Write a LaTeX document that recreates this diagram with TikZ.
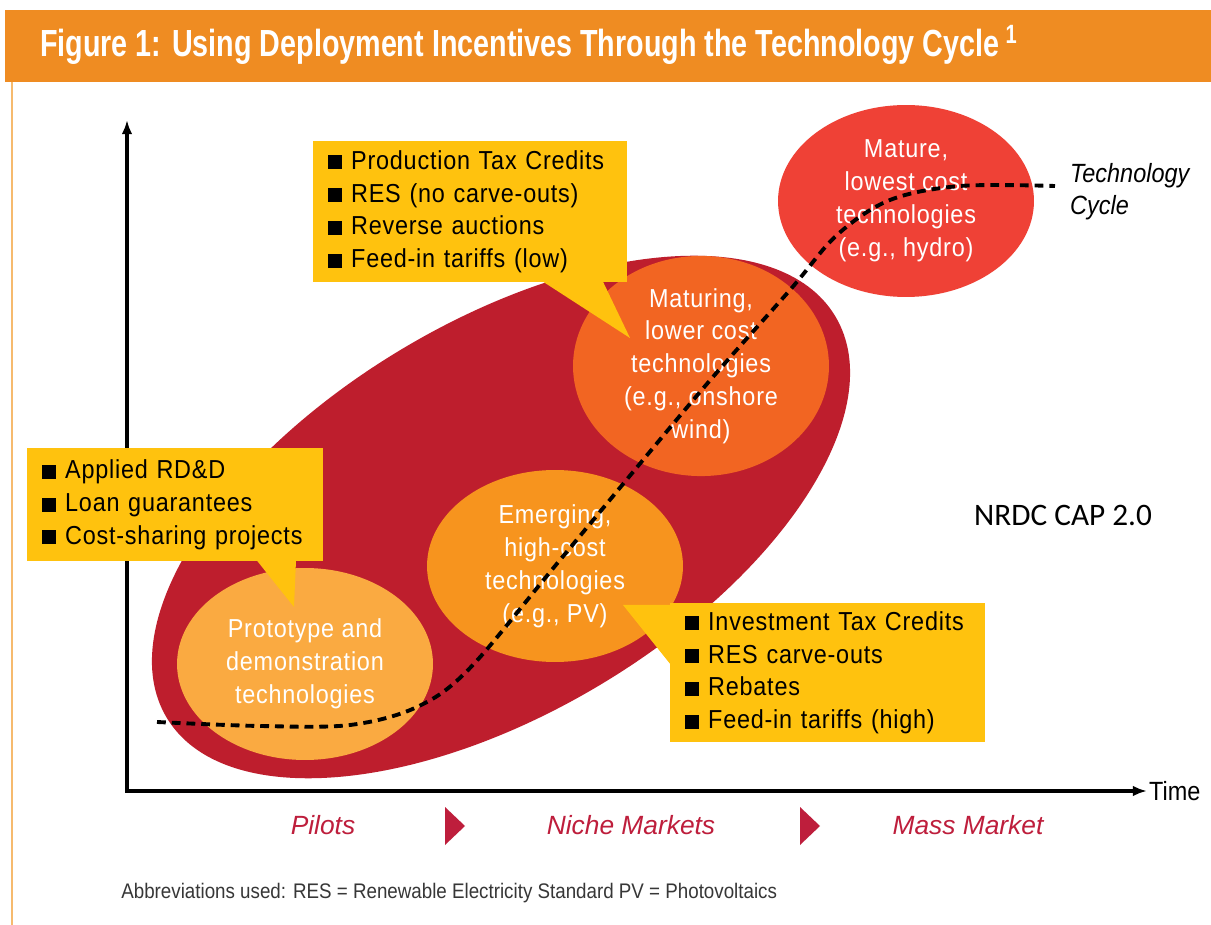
\documentclass[tikz,border=0pt]{standalone}
\usepackage{fontspec}
\setmainfont{Liberation Sans}
\newfontfamily\headfont[FakeStretch=0.76]{Liberation Sans}
\newfontfamily\bodyfont[FakeStretch=0.9,LetterSpace=3]{Liberation Sans}
\newfontfamily\notefont[FakeStretch=0.89]{Liberation Sans}
\newfontfamily\stampfont{Carlito}
\usepackage{tikz}
\usetikzlibrary{shapes.geometric, arrows.meta, positioning, calc}
\definecolor{barorange}{RGB}{239,140,34}
\definecolor{framecol}{RGB}{246,186,110}
\definecolor{cyclered}{RGB}{190,30,45}
\definecolor{protofill}{RGB}{250,170,65}
\definecolor{emergefill}{RGB}{247,148,30}
\definecolor{maturingfill}{RGB}{242,101,34}
\definecolor{maturefill}{RGB}{239,65,54}
\definecolor{calloutyellow}{RGB}{255,194,14}
\definecolor{phasered}{RGB}{190,30,60}
\definecolor{notegray}{RGB}{55,55,55}

\newcommand{\sqbullet}{\rule{8pt}{8pt}\hspace{5pt}}

\begin{document}
\begin{tikzpicture}[x=0.02cm, y=-0.02cm,
    stage/.style={ellipse, fill=#1, minimum width=5.12cm, minimum height=3.84cm,
                  inner sep=0pt, align=center, text=white,
                  font=\bodyfont\fontsize{14.8}{18.7}\selectfont},
    incentive/.style={rectangle, fill=calloutyellow, anchor=north west, align=left,
                      inner xsep=0.3cm, inner ysep=0pt,
                      font=\bodyfont\fontsize{14.8}{18.7}\selectfont},
    phase/.style={font=\fontsize{15}{18}\selectfont\itshape, text=phasered},
    axisline/.style={line width=2.2pt,
                     {Latex[length=8pt,width=6pt]}-{Latex[length=8pt,width=6pt]}},
    cyclepath/.style={line width=2.2pt, dash pattern=on 5pt off 3.4pt},
]
\useasboundingbox (0,0) rectangle (1211,925);
\fill[white] (0,0) rectangle (1211,925);

% heading bar and frame
\fill[barorange] (5,10) rectangle (1211,82);
\draw[framecol, line width=1.2pt] (12,82) -- (12,925);
\node[anchor=west, text=white, font=\headfont\bfseries\fontsize{21.5}{24}\selectfont]
  (title) at (34,45)
  {Figure 1: Using Deployment Incentives Through the Technology Cycle\,\textsuperscript{1}};

% axes
\coordinate (origin) at (127,791);
\coordinate (valuetop) at (127,120);
\coordinate (timeend) at (1147,791);
\draw[axisline] (valuetop) -- (origin) -- (timeend);
\node[anchor=west, inner sep=1pt, font=\notefont\fontsize{15}{18}\selectfont]
  (timelabel) at (timeend) {Time};

% markets
\node[ellipse, fill=cyclered, minimum width=15.6cm, minimum height=7.8cm,
      rotate=31] (market) at (501,517) {};

\node[stage=protofill] (proto) at (305,664)
  {Prototype and\\demonstration\\technologies};
\node[stage=emergefill] (emerging) at (555,566)
  {Emerging,\\high-cost\\technologies\\(e.g., PV)};
\node[stage=maturingfill] (maturing) at (701,366)
  {Maturing,\\lower cost\\technologies\\(e.g., onshore\\wind)};
\node[stage=maturefill] (mature) at (906,201)
  {Mature,\\lowest cost\\technologies\\(e.g., hydro)};

% incentive boxes
\node[incentive, text width=5.68cm, minimum height=2.82cm] (prodbox) at (313,141)
  {\sqbullet Production Tax Credits\\
   \sqbullet RES (no carve-outs)\\
   \sqbullet Reverse auctions\\
   \sqbullet Feed-in tariffs (low)};
\node[incentive, text width=5.32cm, minimum height=2.26cm] (labbox) at (27,448)
  {\sqbullet Applied RD\&D\\
   \sqbullet Loan guarantees\\
   \sqbullet Cost-sharing projects};
\node[incentive, text width=5.7cm, minimum height=2.78cm] (invbox) at (670,603)
  {\sqbullet Investment Tax Credits\\
   \sqbullet RES carve-outs\\
   \sqbullet Rebates\\
   \sqbullet Feed-in tariffs (high)};

\coordinate (prodtip) at (630,338);
\coordinate (labtip) at (294,607);
\coordinate (invtip) at (623,605);
\fill[calloutyellow] ($(prodbox.south west)+(230,-1)$) -- (prodtip)
  -- ($(prodbox.south west)+(290,-1)$) -- cycle;
\fill[calloutyellow] ($(labbox.south west)+(230,-1)$) -- (labtip)
  -- ($(labbox.south west)+(269,-1)$) -- cycle;
\fill[calloutyellow] ($(invbox.north west)+(1,2)$) -- (invtip)
  -- ($(invbox.north west)+(1,62)$) -- cycle;

% technology cycle
\draw[cyclepath] plot[smooth, tension=0.55] coordinates {(157,722) (260,726)
  (350,725) (417,707) (470,668) (560,560) (700,392) (790,290) (837,235)
  (890,200) (960,186) (1055,186)};
\node[anchor=west, align=left, font=\notefont\itshape\fontsize{15}{18}\selectfont]
  (cyclelabel) at (1064,192) {Technology\\Cycle};

% market phases
\node[phase] (pilots) at (323,825) {Pilots};
\node[phase] (niche) at (631,825) {Niche Markets};
\node[phase] (mass) at (968,825) {Mass Market};
\foreach \x in {445,800}
  \fill[phasered] (\x,807) -- (\x+20,826) -- (\x,845) -- cycle;

\node[anchor=west, inner sep=0pt, text=notegray,
      font=\notefont\fontsize{12}{14}\selectfont] (abbrev) at (121,893)
  {Abbreviations used: RES = Renewable Electricity Standard PV = Photovoltaics};

\node[anchor=west, font=\stampfont\fontsize{17.8}{20}\selectfont] (stamp) at (968,515)
  {NRDC CAP 2.0};
\end{tikzpicture}
\end{document}
